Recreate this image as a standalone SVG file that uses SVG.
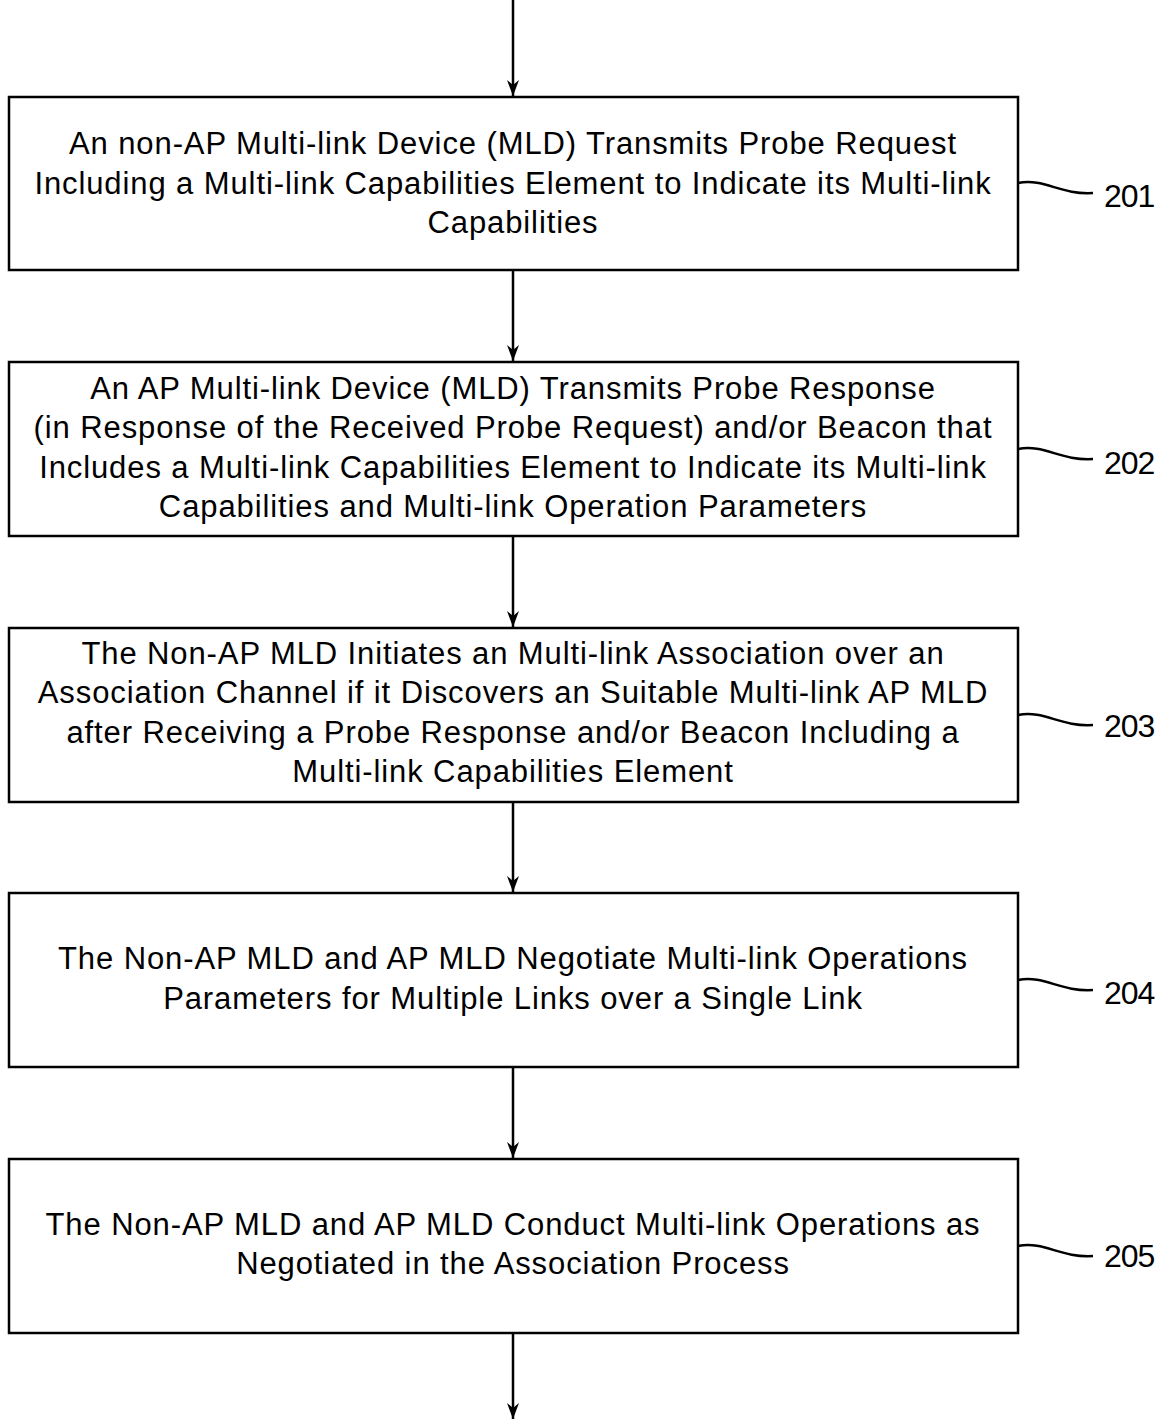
<svg xmlns="http://www.w3.org/2000/svg" width="1170" height="1421" viewBox="0 0 1170 1421">
<style>
.box{fill:#fff;stroke:#000;stroke-width:2.5}
.t{font-family:"Liberation Sans",Arial,sans-serif;font-size:31px;letter-spacing:0.9px;fill:#000;text-anchor:middle}
.lbl{font-family:"Liberation Sans",Arial,sans-serif;font-size:32px;letter-spacing:-1px;fill:#000}
.c{stroke:#000;stroke-width:2.5;fill:none}
</style>
<defs>
<marker id="ah" markerWidth="16" markerHeight="12" refX="16" refY="6" orient="auto" markerUnits="userSpaceOnUse" viewBox="0 0 16 12">
<path d="M0,0 L5,6 L0,12 L16,6 Z" fill="#000"/>
</marker>
</defs>
<rect width="1170" height="1421" fill="#fff"/>
<g id="connectors">
<line class="c" x1="513" y1="0" x2="513" y2="96" marker-end="url(#ah)"/>
<line class="c" x1="513" y1="271" x2="513" y2="361" marker-end="url(#ah)"/>
<line class="c" x1="513" y1="537" x2="513" y2="627" marker-end="url(#ah)"/>
<line class="c" x1="513" y1="803" x2="513" y2="892" marker-end="url(#ah)"/>
<line class="c" x1="513" y1="1068" x2="513" y2="1158" marker-end="url(#ah)"/>
<line class="c" x1="513" y1="1334" x2="513" y2="1419" marker-end="url(#ah)"/>
</g>
<g id="n201">
<rect class="box" x="9" y="97" width="1009" height="173"/>
<text class="t"><tspan x="513" y="154">An non-AP Multi-link Device (MLD) Transmits Probe Request</tspan><tspan x="513" y="194">Including a Multi-link Capabilities Element to Indicate its Multi-link</tspan><tspan x="513" y="233">Capabilities</tspan></text>
<path class="c" d="M1018,183 C1045,178 1060,195 1093,193"/>
<text class="lbl" x="1104" y="207">201</text>
</g>
<g id="n202">
<rect class="box" x="9" y="362" width="1009" height="174"/>
<text class="t"><tspan x="513" y="399">An AP Multi-link Device (MLD) Transmits Probe Response</tspan><tspan x="513" y="438">(in Response of the Received Probe Request) and/or Beacon that</tspan><tspan x="513" y="478">Includes a Multi-link Capabilities Element to Indicate its Multi-link</tspan><tspan x="513" y="517">Capabilities and Multi-link Operation Parameters</tspan></text>
<path class="c" d="M1018,449 C1045,444 1060,461 1093,459"/>
<text class="lbl" x="1104" y="474">202</text>
</g>
<g id="n203">
<rect class="box" x="9" y="628" width="1009" height="174"/>
<text class="t"><tspan x="513" y="664">The Non-AP MLD Initiates an Multi-link Association over an</tspan><tspan x="513" y="703">Association Channel if it Discovers an Suitable Multi-link AP MLD</tspan><tspan x="513" y="743">after Receiving a Probe Response and/or Beacon Including a</tspan><tspan x="513" y="782">Multi-link Capabilities Element</tspan></text>
<path class="c" d="M1018,715 C1045,710 1060,727 1093,725"/>
<text class="lbl" x="1104" y="737">203</text>
</g>
<g id="n204">
<rect class="box" x="9" y="893" width="1009" height="174"/>
<text class="t"><tspan x="513" y="969">The Non-AP MLD and AP MLD Negotiate Multi-link Operations</tspan><tspan x="513" y="1009">Parameters for Multiple Links over a Single Link</tspan></text>
<path class="c" d="M1018,980 C1045,975 1060,992 1093,990"/>
<text class="lbl" x="1104" y="1004">204</text>
</g>
<g id="n205">
<rect class="box" x="9" y="1159" width="1009" height="174"/>
<text class="t"><tspan x="513" y="1235">The Non-AP MLD and AP MLD Conduct Multi-link Operations as</tspan><tspan x="513" y="1274">Negotiated in the Association Process</tspan></text>
<path class="c" d="M1018,1246 C1045,1241 1060,1258 1093,1256"/>
<text class="lbl" x="1104" y="1267">205</text>
</g>
</svg>
